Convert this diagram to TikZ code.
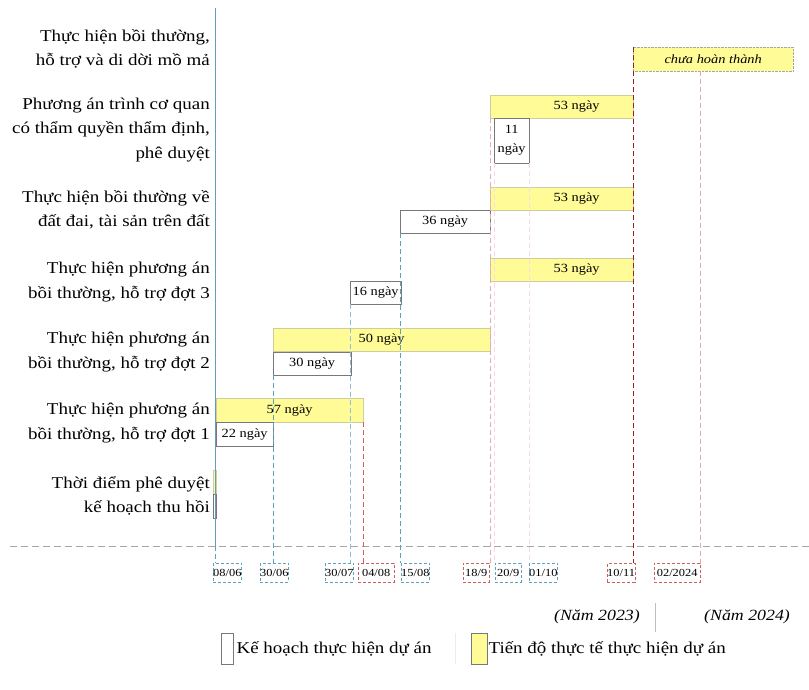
\documentclass[tikz,border=0pt]{standalone}
\usepackage{fontspec}
\setmainfont[FakeStretch=1.15]{Liberation Serif}
\usepackage{tikz}
\usetikzlibrary{positioning}

\definecolor{thucte}{RGB}{255,251,150}
\definecolor{thucteline}{RGB}{205,205,160}
\definecolor{kehoachline}{RGB}{120,120,120}
\definecolor{namblue}{RGB}{95,160,190}
\definecolor{namred}{RGB}{205,95,95}
\definecolor{nampink}{RGB}{225,170,180}
\definecolor{namdark}{RGB}{150,35,35}

\newcommand{\labfont}{\fontsize{16.5pt}{24.5pt}\selectfont}
\newcommand{\barfont}{\fontsize{12.5pt}{19pt}\selectfont}
\newcommand{\datefont}{\fontsize{10.8pt}{11pt}\selectfont}
\newcommand{\yearfont}{\fontsize{15.5pt}{18pt}\selectfont\itshape}

\begin{document}
\begin{tikzpicture}[x=1pt,y=-1pt,
    every node/.style={inner sep=1pt},
    actual/.style={draw=thucteline,fill=thucte,anchor=north west,font=\barfont},
    plan/.style={draw=kehoachline,fill=white,anchor=north west,font=\barfont},
    sz/.style 2 args={minimum width=#1pt,minimum height=#2pt},
    datebox/.style={draw=#1,densely dashed,anchor=north west,
      minimum height=19pt,inner sep=0pt,font=\datefont},
    task/.style={anchor=east,align=right,font=\labfont},
    guide/.style={draw=#1,dash pattern=on 5pt off 3pt}]

    \useasboundingbox (0,0) rectangle (809,690);

    % Task labels
    \node[task] (t1) at (211,49)  {Thực hiện bồi thường,\\hỗ trợ và di dời mồ mả};
    \node[task] (t2) at (211,130) {Phương án trình cơ quan\\có thẩm quyền thẩm định,\\phê duyệt};
    \node[task] (t3) at (211,210) {Thực hiện bồi thường về\\đất đai, tài sản trên đất};
    \node[task] (t4) at (211,282) {Thực hiện phương án\\bồi thường, hỗ trợ đợt 3};
    \node[task] (t5) at (211,352) {Thực hiện phương án\\bồi thường, hỗ trợ đợt 2};
    \node[task] (t6) at (211,423) {Thực hiện phương án\\bồi thường, hỗ trợ đợt 1};
    \node[task] (t7) at (211,496) {Thời điểm phê duyệt\\kế hoạch thu hồi};

    % Date boxes under the axis
    \foreach \n/\x/\w/\d/\c in {d1/213/26/{08/06}/namblue, d2/260/26/{30/06}/namblue,
        d3/325/26/{30/07}/namblue, d4/358/36/{04/08}/namred,
        d5/401/27/{15/08}/namblue, d6/463/26/{18/9}/namred,
        d7/495/26/{20/9}/namblue, d8/529/26/{01/10}/namblue,
        d9/607/26/{10/11}/namred, d10/654/46/{02/2024}/namred} {
      \node[datebox=\c,minimum width=\w pt] (\n) at (\x,563) {\d};
    }

    \coordinate (top) at (215,8);
    \coordinate (axis west) at (10,546);
    \coordinate (axis east) at (809,546);
    \draw[gray!70,dash pattern=on 7pt off 4pt] (axis west) -- (axis east);

    % Bars: yellow = actual, white = plan
    \node[actual,sz={160}{24},font=\barfont\itshape,draw=black!35,densely dotted] (a1) at (633,47) {chưa hoàn thành};
    \node[actual,sz={143}{23}] (a2) at (490,95)  {\hspace*{30pt}53 ngày};
    \node[plan,sz={35}{45},align=center] (p2) at (494,118) {11\\ngày};
    \node[actual,sz={143}{23}] (a3) at (490,187) {\hspace*{30pt}53 ngày};
    \node[plan,sz={90}{23}] (p3) at (400,210) {36 ngày};
    \node[actual,sz={143}{23}] (a4) at (490,258) {\hspace*{30pt}53 ngày};
    \node[plan,sz={51}{23}] (p4) at (350,281) {16 ngày};
    \node[actual,sz={217}{23}] (a5) at (273,328) {50 ngày};
    \node[plan,sz={78}{23}] (p5) at (273,352) {30 ngày};
    \node[actual,sz={147}{24}] (a6) at (216,398) {57 ngày};
    \node[plan,sz={57}{24}] (p6) at (216,422) {22 ngày};
    \node[actual,sz={3}{24}] (a7) at (213,470) {};
    \node[plan,sz={3}{24}] (p7) at (213,494) {};

    % Guide lines down to the dates
    \draw[namblue] (top) -- (top |- axis west);
    \draw[guide=namblue] (top |- axis west) -- (top |- d1.north);
    \draw[guide=namblue] (p5.south west) -- (p5.south west |- d2.north);
    \draw[guide=namblue!70] (p4.south west) -- (p4.south west |- d3.north);
    \draw[guide=namred] (a6.south east) -- (a6.south east |- d4.north);
    \draw[guide=namblue] (p3.south west) -- (p3.south west |- d5.north);
    \draw[guide=nampink] (a2.south west) -- (a2.south west |- d6.north);
    \draw[guide=nampink!40] (p2.south west) -- (p2.south west |- d7.north);
    \draw[guide=nampink!40] (p2.south east) -- (p2.south east |- d8.north);
    \draw[guide=namdark] (a1.north west) -- (a1.north west |- d9.north);
    \draw[guide=nampink] (d10.north east |- a1.south) -- (d10.north east);

    % Years
    \node[anchor=east,font=\yearfont] (y1) at (641,617) {(Năm 2023)};
    \node[anchor=west,font=\yearfont] (y2) at (703,617) {(Năm 2024)};
    \draw[gray!50] (655,603) -- (655,632);

    % Legend
    \node[plan,sz={12}{31}] (k1) at (221,633) {};
    \node[right=2pt of k1,font=\labfont] (k1t) {Kế hoạch thực hiện dự án};
    \draw[gray!15] (455,633) -- (455,664);
    \node[actual,draw=kehoachline,sz={16}{31}] (k2) at (471,633) {};
    \node[right=0pt of k2,font=\labfont] (k2t) {Tiến độ thực tế thực hiện dự án};

  \end{tikzpicture}
\end{document}
